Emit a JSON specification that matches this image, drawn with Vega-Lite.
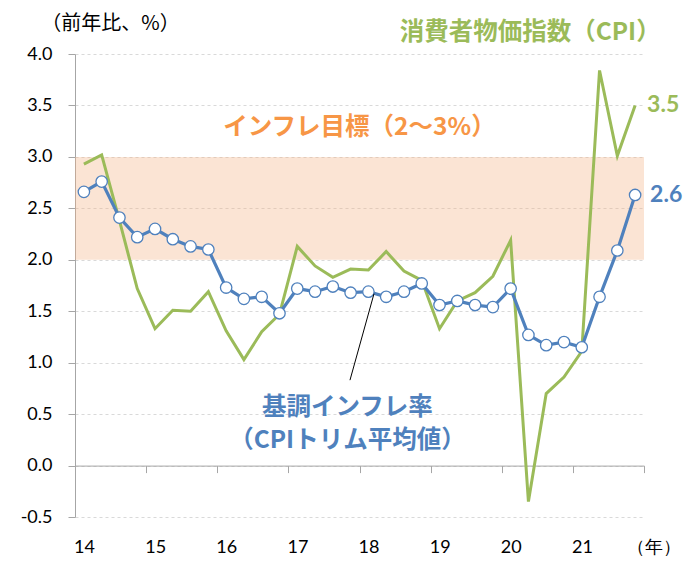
{
  "$schema": "https://vega.github.io/schema/vega-lite/v6.json",
  "width": 569,
  "height": 463,
  "autosize": "none",
  "padding": {"left": 75, "top": 54, "right": 56, "bottom": 44},
  "background": "white",
  "config": {"view": {"stroke": null}},
  "data": {"values": [
    {"t": 2014.125, "core": 2.66, "cpi": 2.93},
    {"t": 2014.375, "core": 2.76, "cpi": 3.02},
    {"t": 2014.625, "core": 2.41, "cpi": 2.38},
    {"t": 2014.875, "core": 2.22, "cpi": 1.72},
    {"t": 2015.125, "core": 2.30, "cpi": 1.33},
    {"t": 2015.375, "core": 2.20, "cpi": 1.51},
    {"t": 2015.625, "core": 2.13, "cpi": 1.50},
    {"t": 2015.875, "core": 2.10, "cpi": 1.69},
    {"t": 2016.125, "core": 1.73, "cpi": 1.31},
    {"t": 2016.375, "core": 1.62, "cpi": 1.03},
    {"t": 2016.625, "core": 1.64, "cpi": 1.30},
    {"t": 2016.875, "core": 1.48, "cpi": 1.47},
    {"t": 2017.125, "core": 1.72, "cpi": 2.13},
    {"t": 2017.375, "core": 1.69, "cpi": 1.94},
    {"t": 2017.625, "core": 1.74, "cpi": 1.83},
    {"t": 2017.875, "core": 1.68, "cpi": 1.91},
    {"t": 2018.125, "core": 1.69, "cpi": 1.90},
    {"t": 2018.375, "core": 1.64, "cpi": 2.08},
    {"t": 2018.625, "core": 1.69, "cpi": 1.89},
    {"t": 2018.875, "core": 1.77, "cpi": 1.80},
    {"t": 2019.125, "core": 1.56, "cpi": 1.33},
    {"t": 2019.375, "core": 1.60, "cpi": 1.60},
    {"t": 2019.625, "core": 1.56, "cpi": 1.68},
    {"t": 2019.875, "core": 1.54, "cpi": 1.84},
    {"t": 2020.125, "core": 1.72, "cpi": 2.19},
    {"t": 2020.375, "core": 1.27, "cpi": -0.35},
    {"t": 2020.625, "core": 1.17, "cpi": 0.70},
    {"t": 2020.875, "core": 1.20, "cpi": 0.86},
    {"t": 2021.125, "core": 1.15, "cpi": 1.11},
    {"t": 2021.375, "core": 1.64, "cpi": 3.84},
    {"t": 2021.625, "core": 2.09, "cpi": 3.01},
    {"t": 2021.875, "core": 2.63, "cpi": 3.50}
  ]},
  "layer": [
    {
      "data": {"values": [{"x0": 2014, "x1": 2022, "lo": 2, "hi": 3}]},
      "mark": {"type": "rect", "fill": "#F4B183", "fillOpacity": 0.35, "strokeWidth": 0},
      "encoding": {
        "x": {"field": "x0", "type": "quantitative",
          "scale": {"domain": [2014, 2022], "nice": false, "zero": false},
          "axis": {
            "values": [2014, 2015, 2016, 2017, 2018, 2019, 2020, 2021, 2022],
            "labelExpr": "datum.value == 2022 ? '（年）' : format(datum.value - 2000, 'd')",
            "offset": -51.4,
            "labelPadding": 66,
            "labelOffset": 9,
            "labelFlush": false,
            "labelOverlap": false,
            "labelBound": false,
            "tickSize": 7,
            "tickColor": "#A6A6A6",
            "domainColor": "#A6A6A6",
            "grid": false,
            "title": null,
            "labelFontSize": 18,
            "labelFont": "Lato",
            "labelColor": "#000000"
          }
        },
        "x2": {"field": "x1"},
        "y": {"field": "lo", "type": "quantitative",
          "scale": {"domain": [-0.5, 4], "nice": false, "zero": false},
          "axis": {
            "values": [-0.5, 0, 0.5, 1, 1.5, 2, 2.5, 3, 3.5, 4],
            "labelExpr": "datum.value < 0 ? '-' + format(-datum.value, '.1f') : format(datum.value, '.1f')",
            "labelFontSize": 18,
            "labelFont": "Lato",
            "labelColor": "#000000",
            "labelPadding": 16,
            "tickSize": 7,
            "tickColor": "#A6A6A6",
            "domainColor": "#A6A6A6",
            "grid": true,
            "gridColor": "#D9D9D9",
            "gridDash": [3, 3],
            "title": "（前年比、%）",
            "titleAngle": 0,
            "titleX": 35,
            "titleY": -31,
            "titleAlign": "center",
            "titleBaseline": "middle",
            "titleFontSize": 20,
            "titleFontWeight": "normal",
            "titleFont": "Noto Sans CJK JP",
            "titleColor": "#000000"
          }
        },
        "y2": {"field": "hi"}
      }
    },
    {
      "mark": {"type": "line", "color": "#9BBB59", "strokeWidth": 3},
      "encoding": {
        "x": {"field": "t", "type": "quantitative"},
        "y": {"field": "cpi", "type": "quantitative"}
      }
    },
    {
      "mark": {"type": "line", "color": "#4F81BD", "strokeWidth": 3.2},
      "encoding": {
        "x": {"field": "t", "type": "quantitative"},
        "y": {"field": "core", "type": "quantitative"}
      }
    },
    {
      "mark": {"type": "point", "shape": "circle", "filled": true, "fill": "white", "stroke": "#4F81BD", "strokeWidth": 1.3, "size": 130, "opacity": 1},
      "encoding": {
        "x": {"field": "t", "type": "quantitative"},
        "y": {"field": "core", "type": "quantitative"}
      }
    },
    {
      "transform": [{"filter": "datum.t == 2021.875"}],
      "mark": {"type": "text", "color": "#9BBB59", "fontSize": 23, "fontWeight": "bold", "font": "Lato", "align": "left", "baseline": "middle", "dx": 12},
      "encoding": {
        "x": {"field": "t", "type": "quantitative"},
        "y": {"field": "cpi", "type": "quantitative"},
        "text": {"field": "cpi", "type": "quantitative", "format": ".1f"}
      }
    },
    {
      "transform": [{"filter": "datum.t == 2021.875"}],
      "mark": {"type": "text", "color": "#4F81BD", "fontSize": 23, "fontWeight": "bold", "font": "Lato", "align": "left", "baseline": "middle", "dx": 15},
      "encoding": {
        "x": {"field": "t", "type": "quantitative"},
        "y": {"field": "core", "type": "quantitative"},
        "text": {"field": "core", "type": "quantitative", "format": ".1f"}
      }
    },
    {
      "data": {"values": [{"xa": 2017.866, "ya": 0.83, "xb": 2018.204, "yb": 1.67}]},
      "mark": {"type": "rule", "color": "#000000", "strokeWidth": 1},
      "encoding": {
        "x": {"field": "xa", "type": "quantitative"},
        "y": {"field": "ya", "type": "quantitative"},
        "x2": {"field": "xb"},
        "y2": {"field": "yb"}
      }
    },
    {
      "data": {"values": [
        {"lx": 2020.4, "ly": 4.2, "label": "消費者物価指数（CPI）", "kind": "cpi"},
        {"lx": 2018.0, "ly": 3.28, "label": "インフレ目標（2～3%）", "kind": "target"},
        {"lx": 2017.83, "ly": 0.56, "label": "基調インフレ率", "kind": "core"},
        {"lx": 2017.83, "ly": 0.24, "label": "（CPIトリム平均値）", "kind": "core"}
      ]},
      "mark": {"type": "text", "fontSize": 24.5, "fontWeight": "bold", "font": "Noto Sans CJK JP", "align": "center", "baseline": "middle"},
      "encoding": {
        "x": {"field": "lx", "type": "quantitative"},
        "y": {"field": "ly", "type": "quantitative"},
        "text": {"field": "label"},
        "color": {"field": "kind", "type": "nominal", "legend": null,
          "scale": {"domain": ["cpi", "target", "core"], "range": ["#9BBB59", "#F79646", "#4F81BD"]}}
      }
    }
  ]
}
